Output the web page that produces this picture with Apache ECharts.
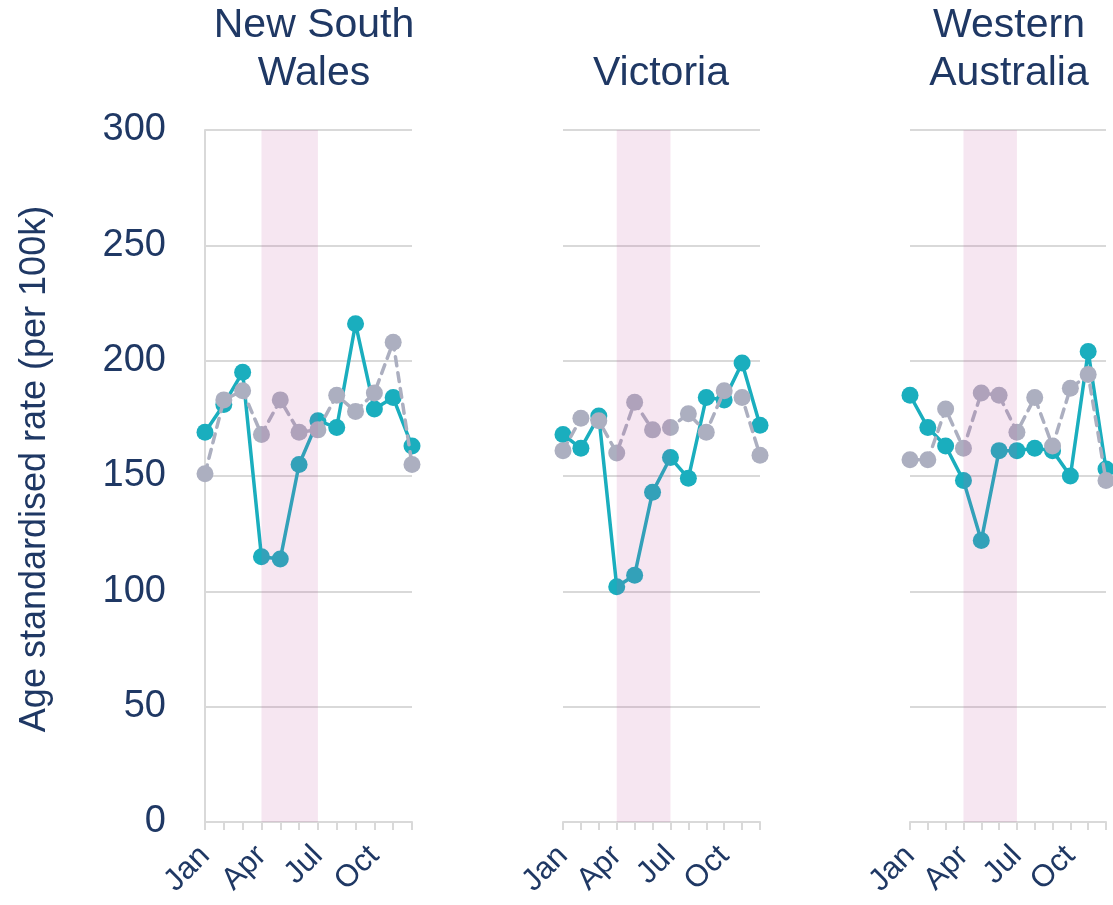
<!DOCTYPE html>
<html lang="en">

<head>
    <meta charset="UTF-8">
    <title>Age standardised rate by state</title>
    <script src="https://cdn.jsdelivr.net/npm/echarts@6/dist/echarts.min.js"></script>
    <style>
        html, body { margin: 0; padding: 0; background: #fff; }
        #main { width: 1113px; height: 905px; }
    </style>
</head>

<body>
    <div id="main"></div>

    <script>
        // 数据
        var months = ['Jan', 'Feb', 'Mar', 'Apr', 'May', 'Jun', 'Jul', 'Aug', 'Sep', 'Oct', 'Nov', 'Dec'];
        var yTicks = [0, 50, 100, 150, 200, 250, 300];
        var panelNames = ['New South\nWales', 'Victoria', 'Western\nAustralia'];

        var nswRate = [169, 181, 195, 115, 114, 155, 174, 171, 216, 179, 184, 163];
        var nswBase = [151, 183, 187, 168, 183, 169, 170, 185, 178, 186, 208, 155];
        var vicRate = [168, 162, 176, 102, 107, 143, 158, 149, 184, 183, 199, 172];
        var vicBase = [161, 175, 174, 160, 182, 170, 171, 177, 169, 187, 184, 159];
        var waRate = [185, 171, 163, 148, 122, 161, 161, 162, 161, 150, 204, 153];
        var waBase = [157, 157, 179, 162, 186, 185, 169, 184, 163, 188, 194, 148];

        var bandStart = 'Apr';
        var bandEnd = 'Jul';

        var rates = [nswRate, vicRate, waRate];
        var bases = [nswBase, vicBase, waBase];

        var navy = '#1F3864';
        var teal = '#1AAEBE';
        var grey = '#ACAFC0';
        var gridGrey = '#D9D9D9';
        var font = '"Liberation Sans", Arial, sans-serif';

        // 三个面板的位置
        var panels = [
            { left: 205, width: 207, titleX: 314 },
            { left: 563, width: 197, titleX: 661 },
            { left: 910, width: 196, titleX: 1009 }
        ];

        var myChart = echarts.init(document.getElementById('main'));

        var grids = [];
        var xAxes = [];
        var yAxes = [];
        var series = [];
        var texts = [];

        for (var i = 0; i < panels.length; i++) {
            var p = panels[i];
            grids.push({ left: p.left, width: p.width, top: 130, bottom: 83 });

            xAxes.push({
                gridIndex: i,
                type: 'category',
                boundaryGap: false,
                data: months,
                axisLine: { lineStyle: { color: gridGrey, width: 2 } },
                axisTick: { show: true, interval: 0, length: 8, lineStyle: { color: gridGrey, width: 2 } },
                axisLabel: {
                    interval: 2,
                    rotate: 45,
                    margin: 29,
                    fontSize: 31,
                    fontFamily: font,
                    color: navy
                }
            });

            yAxes.push({
                gridIndex: i,
                type: 'value',
                min: yTicks[0],
                max: yTicks[yTicks.length - 1],
                interval: 50,
                axisLine: { show: i === 0, lineStyle: { color: gridGrey, width: 2 } },
                axisTick: { show: false },
                axisLabel: {
                    show: i === 0,
                    margin: 39,
                    fontSize: 38,
                    fontFamily: font,
                    color: navy
                },
                splitLine: { lineStyle: { color: gridGrey, width: 2 } }
            });

            series.push({
                type: 'line',
                xAxisIndex: i,
                yAxisIndex: i,
                data: rates[i],
                symbol: 'circle',
                symbolSize: 17,
                showAllSymbol: true,
                z: 3,
                itemStyle: { color: teal },
                lineStyle: { color: teal, width: 3.5 }
            });

            series.push({
                type: 'line',
                xAxisIndex: i,
                yAxisIndex: i,
                data: bases[i],
                symbol: 'circle',
                symbolSize: 17,
                showAllSymbol: true,
                z: 4,
                itemStyle: { color: grey },
                lineStyle: { color: grey, width: 3.5, type: [9, 7], cap: 'round' },
                // 粉色阴影区域 (盖在线上)
                markArea: {
                    silent: true,
                    z: 10,
                    itemStyle: { color: 'rgba(195, 88, 162, 0.15)' },
                    data: [[{ xAxis: bandStart }, { xAxis: bandEnd }]]
                }
            });

            texts.push({
                type: 'text',
                x: p.titleX,
                y: 98,
                style: {
                    text: panelNames[i],
                    font: '41px ' + font,
                    lineHeight: 48,
                    fill: navy,
                    textAlign: 'center',
                    textVerticalAlign: 'bottom'
                }
            });
        }

        // y轴标题
        texts.push({
            type: 'text',
            x: 35,
            y: 469,
            rotation: Math.PI / 2,
            style: {
                text: 'Age standardised rate (per 100k)',
                font: '36px ' + font,
                fill: navy,
                textAlign: 'center',
                textVerticalAlign: 'middle'
            }
        });

        var option = {
            animation: false,
            grid: grids,
            xAxis: xAxes,
            yAxis: yAxes,
            series: series,
            graphic: texts
        };

        myChart.setOption(option);
    </script>
</body>

</html>
